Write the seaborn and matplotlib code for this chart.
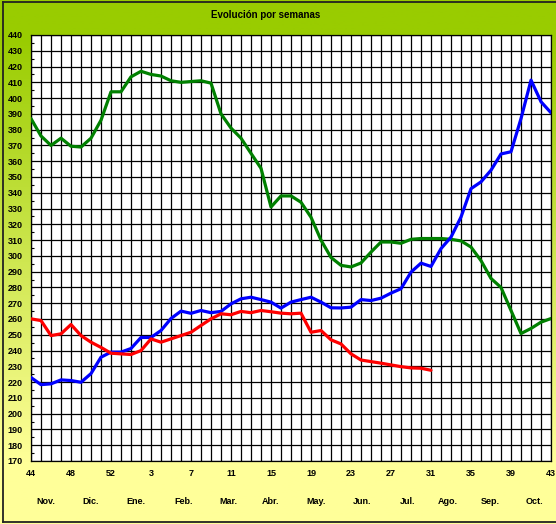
import numpy as np
import pandas as pd
import seaborn as sns
import matplotlib.pyplot as plt
from matplotlib.lines import Line2D

# week numbers along the x axis (season starts at week 44)
weeks = list(range(44, 54)) + list(range(1, 44))

green = [387, 376, 370, 374.6, 369.5, 369, 374.6, 386, 404, 404,
         413.5, 417, 415, 414, 411, 410, 410.5, 411, 409.5, 390,
         381, 374.6, 365, 355.5, 331, 338, 338, 334, 324.5, 310,
         299, 294, 293, 295.5, 302.4, 308.8, 308.8, 308, 310.5, 311,
         311, 311, 310.5, 309.5, 305.6, 297, 285.7, 280, 265.4, 250.8,
         254, 258, 260.3]
blue = [222.9, 218.4, 218.9, 221.4, 221, 219.9, 225.4, 235.8, 239, 239,
        241.3, 248.3, 248.3, 252.7, 260.3, 265, 263.6, 265.4, 264, 264.8,
        269.6, 272.8, 273.8, 272.3, 270.7, 266.9, 270.7, 272.3, 273.8, 270.7,
        267.1, 267, 267.5, 272.3, 271.7, 273.2, 276.4, 279.2, 289.7, 295.4,
        293.3, 304.6, 311.9, 324.6, 342.6, 346.9, 354.3, 364.6, 366, 387,
        411.4, 397.7, 390.7]
red = [260.1, 259, 249.5, 250.6, 256.5, 249.5, 245.3, 242, 238.3, 237.9,
       237.5, 240, 247.4, 245.3, 247.4, 249.5, 251.6, 255.9, 260.1, 263.3,
       262.7, 264.8, 264, 265.4, 264.6, 263.7, 263.3, 263.7, 251.6, 252.7,
       246.8, 244.2, 237.9, 234, 233, 232, 230.9, 229.8, 229, 228.8,
       227.5]

months = ["Nov.", "Dic.", "Ene.", "Feb.", "Mar.", "Abr.", "May.", "Jun.",
          "Jul.", "Ago.", "Sep.", "Oct."]
month_pos = [1.5, 6.0, 10.5, 15.3, 19.7, 24.0, 28.5, 33.1, 37.7, 41.7, 45.9, 50.3]

rows = []
for name, vals in [("green", green), ("blue", blue), ("red", red)]:
    for i, v in enumerate(vals):
        rows.append({"idx": i, "val": v, "serie": name})
df = pd.DataFrame(rows)

plt.rcParams['font.family'] = ['Liberation Sans', 'DejaVu Sans']

fig = plt.figure(figsize=(5.56, 5.24), dpi=100)

# background gradient green -> yellow
bg = fig.add_axes([0, 0, 1, 1], zorder=-10)
ys = np.linspace(0, 1, 300)
t = np.clip((ys - 0.12) / (0.93 - 0.12), 0, 1)
top = np.array([0.60, 0.80, 0.0])
bot = np.array([1.0, 1.0, 0.60])
cols = bot[None, :] * (1 - t[:, None]) + top[None, :] * t[:, None]
bg.imshow(cols[:, None, :], aspect='auto', origin='lower', extent=[0, 1, 0, 1])
bg.set_xlim(0, 1)
bg.set_ylim(0, 1)
bg.axis('off')
# outer frame (left, top, bottom)
for xs, ys_ in [([0.005, 0.005], [0.004, 0.996]), ([0.005, 1.0], [0.996, 0.996]),
                ([0.005, 1.0], [0.004, 0.004])]:
    fig.lines.append(Line2D(xs, ys_, transform=fig.transFigure, color='#222222', linewidth=1.3))

ax = fig.add_axes([31 / 556, 1 - 461 / 524, 520 / 556, 426 / 524])
ax.set_facecolor('white')

sns.lineplot(data=df, x="idx", y="val", hue="serie",
             palette={"green": "#008000", "blue": "#0000FF", "red": "#FF0000"},
             linewidth=2.3, legend=False, ax=ax, zorder=5)
for l in ax.lines:
    l.set_solid_joinstyle('round')
    l.set_solid_capstyle('round')

ax.set_xlim(0, 52)
ax.set_ylim(170, 440)
ax.set_xticks(range(0, 53))
ax.set_xticklabels([str(w) if i % 4 == 0 else "" for i, w in enumerate(weeks)])
ax.set_yticks(range(170, 441, 10))
ax.set_yticks(range(175, 440, 10), minor=True)
ax.grid(True, which='major', color='black', linewidth=0.9)
ax.tick_params(axis='both', which='major', length=0, labelsize=6.5, pad=6)
ax.tick_params(axis='y', which='minor', length=2.5, direction='in', width=0.8)
for lab in ax.get_xticklabels() + ax.get_yticklabels():
    lab.set_fontweight('bold')
ax.set_xlabel("")
ax.set_ylabel("")
for s in ax.spines.values():
    s.set_color('black')
    s.set_linewidth(0.9)

for m, p in zip(months, month_pos):
    ax.text(p, -0.095, m, transform=ax.get_xaxis_transform(), ha='center', va='center',
            fontsize=6.5, fontweight='bold')

fig.text(266 / 556, 1 - 15 / 524, "Evolución por semanas", ha='center', va='center',
         fontsize=7, fontweight='bold')

fig.savefig("out.png", dpi=100)
